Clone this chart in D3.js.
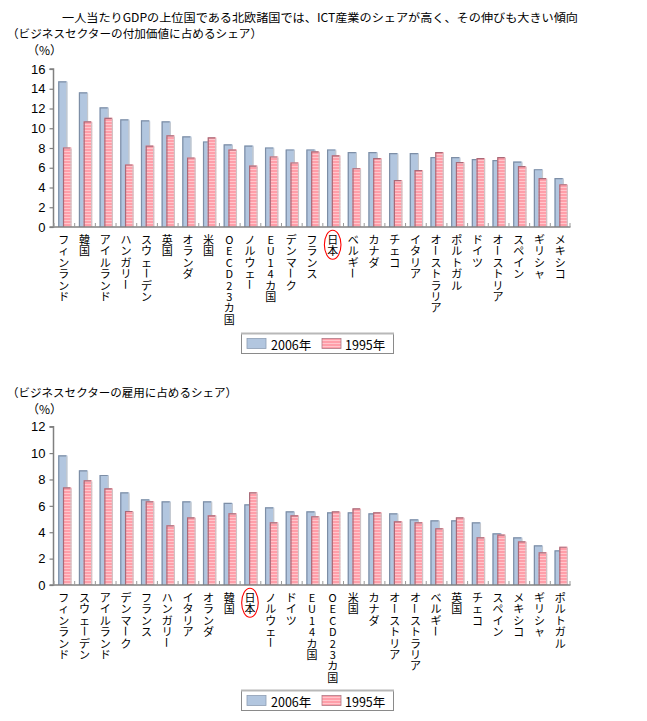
<!DOCTYPE html>
<html><head><meta charset="utf-8">
<script src="https://cdn.jsdelivr.net/npm/d3@7"></script>
<style>
html,body{margin:0;padding:0;background:#fff;}
svg{display:block;font-family:"Noto Sans CJK JP","Noto Sans",sans-serif;}
</style></head>
<body>
<svg id="chart" width="647" height="721"></svg>
<script>
// ---------- data ----------
const mainTitle = "一人当たりGDPの上位国である北欧諸国では、ICT産業のシェアが高く、その伸びも大きい傾向";
const topSubtitle = "（ビジネスセクターの付加価値に占めるシェア）";
const bottomSubtitle = "（ビジネスセクターの雇用に占めるシェア）";
const unitLabel = "（%）";
const seriesNames = ["2006年", "1995年"];

const topCategories = ["フィンランド","韓国","アイルランド","ハンガリー","スウェーデン","英国","オランダ","米国","OECD23カ国","ノルウェー","EU14カ国","デンマーク","フランス","日本","ベルギー","カナダ","チェコ","イタリア","オーストラリア","ポルトガル","ドイツ","オーストリア","スペイン","ギリシャ","メキシコ"];
const top2006 = [14.75,13.63,12.11,10.89,10.79,10.69,9.17,8.66,8.36,8.25,8.05,7.85,7.85,7.85,7.58,7.58,7.48,7.48,7.07,7.07,6.87,6.77,6.63,5.85,4.94];
const top1995 = [8.05,10.69,11.06,6.33,8.25,9.27,7.04,9.07,7.85,6.22,7.14,6.53,7.65,7.26,5.95,6.97,4.74,5.75,7.58,6.56,6.97,7.07,6.16,4.94,4.33];
const topTicks = [0,2,4,6,8,10,12,14,16];

const bottomCategories = ["フィンランド","スウェーデン","アイルランド","デンマーク","フランス","ハンガリー","イタリア","オランダ","韓国","日本","ノルウェー","ドイツ","EU14カ国","OECD23カ国","米国","カナダ","オーストリア","オーストラリア","ベルギー","英国","チェコ","スペイン","メキシコ","ギリシャ","ポルトガル"];
const bottom2006 = [9.83,8.69,8.34,7.02,6.49,6.34,6.34,6.34,6.22,6.11,5.89,5.58,5.58,5.51,5.51,5.43,5.43,4.98,4.90,4.90,4.75,3.92,3.61,3.00,2.62];
const bottom1995 = [7.40,7.93,7.33,5.61,6.34,4.52,5.13,5.28,5.43,7.02,4.75,5.28,5.20,5.58,5.81,5.51,4.83,4.75,4.30,5.13,3.61,3.82,3.31,2.47,2.90];
const bottomTicks = [0,2,4,6,8,10,12];

const highlight = "日本";

// ---------- drawing ----------
const svg = d3.select("#chart");
const defs = svg.append("defs");
const pat = defs.append("pattern").attr("id","stripe").attr("patternUnits","userSpaceOnUse")
  .attr("width",4).attr("height",3);
pat.append("rect").attr("width",4).attr("height",3).attr("fill","#ff9ea9");
pat.append("rect").attr("y",1).attr("width",4).attr("height",1).attr("fill","#ffc6cc");

const BLUE = "#b2c6df";

function txt(s, x, y, size, len){
  const t = svg.append("text").attr("x",x).attr("y",y).attr("font-size",size)
    .attr("dominant-baseline","central").attr("fill","#000").text(s);
  if (len) t.attr("textLength",len).attr("lengthAdjust","spacingAndGlyphs");
  return t;
}

txt(mainTitle, 62, 17, 11.5, 516);
txt(topSubtitle, 7, 33, 11.5, 255);
txt(unitLabel, 27, 49, 12);
txt(bottomSubtitle, 7, 392, 11.5, 230);
txt(unitLabel, 27, 408, 12);

function drawChart(cfg){
  const {cats, s1, s2, ticks, yMax, y0, y1, x0, x1, legendY} = cfg;
  const g = svg.append("g");
  const x = d3.scaleBand().domain(cats).range([x0, x1]).paddingInner(0).paddingOuter(0);
  const y = d3.scaleLinear().domain([0, yMax]).range([y0, y1]);
  const bw = x.bandwidth();

  // y axis
  const ya = g.append("g").attr("transform",`translate(${x0},0)`)
    .call(d3.axisLeft(y).tickValues(ticks).tickSize(4).tickPadding(4).tickFormat(d3.format("d")));
  ya.select(".domain").attr("stroke","#808080").attr("stroke-width",1.5).attr("d",`M-4,${y0}H0V${y1}H-4`);
  ya.selectAll(".tick line").attr("stroke","#808080").attr("stroke-width",1.2);
  ya.selectAll(".tick text").attr("font-size",13).attr("font-family","'Liberation Sans',Arial,sans-serif").attr("fill","#000");

  // bars
  cats.forEach((c,i)=>{
    const bx = x(c);
    const b1x = bx + bw*0.23, b1w = bw*0.44, b1y = y(s1[i]);
    g.append("rect").attr("x",b1x).attr("y",b1y).attr("width",b1w).attr("height",y0-b1y).attr("fill",BLUE);
    g.append("path").attr("d",`M${b1x+0.5},${y0}V${b1y+0.5}H${b1x+b1w-1}`).attr("fill","none").attr("stroke","#7d8ea6").attr("stroke-width",1.2);
    g.append("path").attr("d",`M${b1x+b1w-0.5},${b1y+1}V${y0}`).attr("fill","none").attr("stroke","#c4c8ce").attr("stroke-width",1.2);
    const b2x = bx + bw*0.46, b2w = bw*0.41, b2y = y(s2[i]);
    g.append("rect").attr("x",b2x).attr("y",b2y).attr("width",b2w).attr("height",y0-b2y).attr("fill","url(#stripe)");
    g.append("path").attr("d",`M${b2x+0.5},${y0}V${b2y+0.5}H${b2x+b2w-1}`).attr("fill","none").attr("stroke","#a86a78").attr("stroke-width",1.2);
    g.append("path").attr("d",`M${b2x+b2w-0.5},${b2y+1}V${y0}`).attr("fill","none").attr("stroke","#cfc3c6").attr("stroke-width",1.2);
  });

  // x axis baseline and ticks
  g.append("line").attr("x1",x0).attr("x2",x1).attr("y1",y0).attr("y2",y0).attr("stroke","#808080").attr("stroke-width",1.5);
  cats.forEach(c=>{
    const tx = x(c);
    g.append("line").attr("x1",tx+0.5).attr("x2",tx+0.5).attr("y1",y0-4).attr("y2",y0).attr("stroke","#9a9a9a").attr("stroke-width",1);
  });
  g.append("line").attr("x1",x1-0.5).attr("x2",x1-0.5).attr("y1",y0-4).attr("y2",y0).attr("stroke","#9a9a9a").attr("stroke-width",1);

  // vertical category labels, one character per line
  const lh = 11.4, fs = 11;
  cats.forEach(c=>{
    const cx = x(c) + bw/2;
    Array.from(c).forEach((ch,k)=>{
      const cy = y0 + 12 + k*lh;
      const t = g.append("text").attr("x",cx).attr("y",cy).attr("text-anchor","middle")
        .attr("dominant-baseline","central").attr("font-size",fs).attr("fill","#000").text(ch);
      if (ch === "ー") t.attr("transform",`rotate(90,${cx},${cy})`);
    });
    if (c === highlight){
      g.append("ellipse").attr("cx",cx).attr("cy",y0 + 12 + lh/2).attr("rx",8.3).attr("ry",14.5)
        .attr("fill","none").attr("stroke","#ff0000").attr("stroke-width",1.1);
    }
  });

  // legend
  const lx = 241, lw = 152, lhh = 20;
  const lg = g.append("g");
  lg.append("rect").attr("x",lx+0.5).attr("y",legendY+0.5).attr("width",lw).attr("height",lhh)
    .attr("fill","#fff").attr("stroke","#8a8a8a").attr("stroke-width",1);
  lg.append("line").attr("x1",lx).attr("x2",lx+lw+1).attr("y1",legendY+0.5).attr("y2",legendY+0.5).attr("stroke","#b8b8b8").attr("stroke-width",2);
  lg.append("rect").attr("x",lx+6).attr("y",legendY+5.5).attr("width",19).attr("height",10)
    .attr("fill",BLUE).attr("stroke","#8d9db3").attr("stroke-width",0.8);
  lg.append("text").attr("x",lx+30).attr("y",legendY+11).attr("dominant-baseline","central")
    .attr("font-size",12.5).attr("fill","#000").text(seriesNames[0]);
  lg.append("rect").attr("x",lx+81).attr("y",legendY+5.5).attr("width",19).attr("height",10)
    .attr("fill","url(#stripe)").attr("stroke","#b07a86").attr("stroke-width",0.8);
  lg.append("text").attr("x",lx+104).attr("y",legendY+11).attr("dominant-baseline","central")
    .attr("font-size",12.5).attr("fill","#000").text(seriesNames[1]);
}

drawChart({cats: topCategories, s1: top2006, s2: top1995, ticks: topTicks, yMax: 16,
  y0: 227, y1: 69, x0: 53.5, x1: 570.5, legendY: 333});
drawChart({cats: bottomCategories, s1: bottom2006, s2: bottom1995, ticks: bottomTicks, yMax: 12,
  y0: 585, y1: 426.7, x0: 53.5, x1: 570.5, legendY: 690});
</script>
</body></html>
